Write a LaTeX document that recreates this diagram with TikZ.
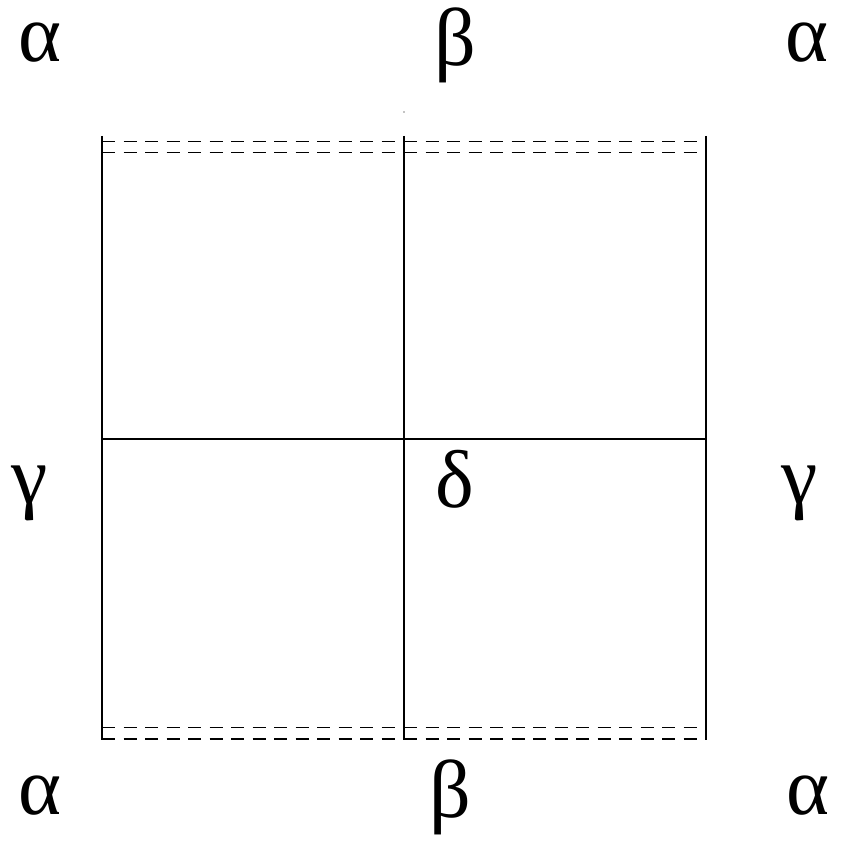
\documentclass[tikz,border=0pt]{standalone}
\usepackage{fontspec}
\setmainfont{Liberation Serif}
\begin{document}
\begin{tikzpicture}[x=1pt,y=-1pt,
  gl/.style={line width=1.2pt},
  dl/.style={line width=1.2pt,dash pattern=on 13pt off 8.5pt},
  lab/.style={font=\fontsize{82}{90}\selectfont,inner sep=0pt,anchor=base,text height=0.45em,text depth=0.1em}]
\useasboundingbox (0,0) rectangle (849,842);
% grid corners
\coordinate (tl) at (102,136); \coordinate (tm) at (404,136); \coordinate (tr) at (706,136);
\coordinate (ml) at (102,439); \coordinate (mr) at (706,439);
\coordinate (bl) at (102,740); \coordinate (bm) at (404,740); \coordinate (br) at (706,740);
\draw[gl] (tl) -- (bl);
\draw[gl] (tm) -- (bm);
\draw[gl] (tr) -- (br);
\draw[gl] (ml) -- (mr);
% dashed lines
\coordinate (d1l) at (102,141.5); \coordinate (d1m) at (404,141.5); \coordinate (d1r) at (706,141.5);
\coordinate (d2l) at (102,152.5); \coordinate (d2m) at (404,152.5); \coordinate (d2r) at (706,152.5);
\coordinate (d3l) at (102,727.5); \coordinate (d3m) at (404,727.5); \coordinate (d3r) at (706,727.5);
\coordinate (d4l) at (102,739); \coordinate (d4m) at (404,739); \coordinate (d4r) at (706,739);
\draw[dl] (d1l) -- (d1m); \draw[dl] (d1m) -- (d1r);
\draw[dl] (d2l) -- (d2m); \draw[dl] (d2m) -- (d2r);
\draw[dl] (d3l) -- (d3m); \draw[dl] (d3m) -- (d3r);
\draw[dl] (d4l) -- (d4m); \draw[dl] (d4m) -- (d4r);
\fill (404,112) circle (0.7pt);
% labels
\node[lab] (a1) at (40,62) {α};
\node[lab] (b1) at (455,66) {β};
\node[lab] (a2) at (807,62) {α};
\node[lab] (g1) at (30,503) {γ};
\node[lab] (d) at (455,507) {δ};
\node[lab] (g2) at (800,503) {γ};
\node[lab] (a3) at (40,814) {α};
\node[lab] (b2) at (450,817) {β};
\node[lab] (a4) at (808,814) {α};
\end{tikzpicture}
\end{document}
